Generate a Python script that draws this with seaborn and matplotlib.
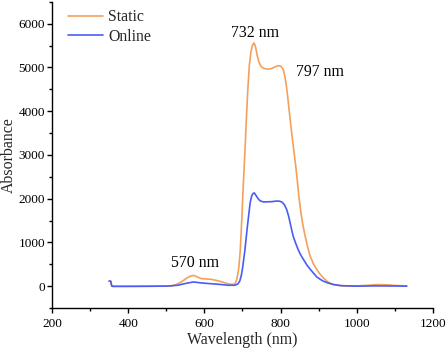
import numpy as np
import pandas as pd
import matplotlib
matplotlib.use("Agg")
import matplotlib.pyplot as plt
from matplotlib.ticker import MultipleLocator
import seaborn as sns

# ---- data ----
static_wl = [350, 354, 357, 360, 400, 450, 500, 514, 525, 540, 555, 565, 571, 578, 585, 593, 605,
             619, 632, 645, 660, 672, 680, 685, 690, 694, 698, 702, 706, 710, 714, 718, 722, 726,
             730, 734, 738, 742, 748, 755, 765, 775, 785, 793, 800, 806, 810, 814, 818, 822, 826,
             830, 835, 840, 844, 848, 853, 858, 864, 870, 877, 886, 895, 903, 912, 925, 938, 950,
             970, 1000, 1030, 1050, 1080, 1100, 1131]
static_abs = [114, 114, 0, -5, -5, -3, 0, 5, 30, 100, 190, 235, 244, 225, 195, 170, 165,
              153, 130, 100, 60, 40, 45, 150, 400, 800, 1500, 2300, 3000, 3800, 4500, 5050, 5350, 5500,
              5560, 5480, 5300, 5150, 5030, 4980, 4960, 4970, 5010, 5040, 5030, 4970, 4850, 4650, 4380, 4060, 3740,
              3440, 3080, 2720, 2400, 2050, 1700, 1420, 1160, 930, 700, 510, 380, 280, 190, 90, 38, 15,
              5, 5, 20, 35, 30, 15, 5]

online_wl = [350, 354, 357, 360, 400, 450, 500, 530, 550, 571, 590, 610, 640, 663, 680, 688, 693,
             697, 700, 703, 706, 709, 712, 716, 720, 724, 728, 731, 735, 740, 746, 755, 775, 790,
             798, 804, 810, 816, 821, 825, 829, 833, 840, 846, 853, 860, 870, 882, 895, 905, 912,
             925, 938, 960, 1000, 1050, 1100, 1131]
online_abs = [114, 114, 0, -5, -5, -3, 0, 20, 60, 95, 75, 60, 40, 20, 20, 50, 120,
              250, 400, 600, 800, 1050, 1300, 1600, 1900, 2060, 2120, 2130, 2080, 2010, 1950, 1925, 1930, 1945,
              1940, 1920, 1860, 1750, 1600, 1446, 1290, 1141, 970, 837, 710, 609, 470, 342, 210, 150, 114,
              70, 38, 10, 0, 5, 3, 0]

series_names = ["Static", "Online"]
series_colors = ["#F5A05A", "#4A5CF5"]

annot_labels = ["732 nm", "797 nm", "570 nm"]
annot_x = [732, 904, 575]
annot_y = [5686, 4807, 443]

x_label = "Wavelength (nm)"
y_label = "Absorbance"

df = pd.concat([
    pd.DataFrame({"Wavelength": static_wl, "Absorbance": static_abs, "Series": "Static"}),
    pd.DataFrame({"Wavelength": online_wl, "Absorbance": online_abs, "Series": "Online"}),
], ignore_index=True)

sns.set_style("ticks")
plt.rcParams["font.family"] = ["Liberation Serif", "DejaVu Serif"]

fig = plt.figure(figsize=(4.47, 3.55), dpi=100)
ax = fig.add_axes([0.1163, 0.1324, 0.8524, 0.8626])

sns.lineplot(data=df, x="Wavelength", y="Absorbance", hue="Series",
             hue_order=series_names, palette=series_colors, linewidth=1.2,
             ax=ax, legend=False, sort=False, estimator=None)

ax.set_xlim(200, 1200)
ax.set_ylim(-500, 6500)
ax.xaxis.set_major_locator(MultipleLocator(200))
ax.xaxis.set_minor_locator(MultipleLocator(100))
ax.yaxis.set_major_locator(MultipleLocator(1000))
ax.yaxis.set_minor_locator(MultipleLocator(500))
ax.tick_params(axis="both", which="major", direction="out", length=3.5, width=1.0,
               labelsize=9.5, colors="black")
ax.tick_params(axis="both", which="minor", direction="out", length=2, width=1.0, colors="black")
ax.tick_params(axis="x", which="major", pad=3.5)
ax.tick_params(axis="y", which="major", pad=1.5)
sns.despine(ax=ax)
for s in ["left", "bottom"]:
    ax.spines[s].set_linewidth(1.0)
    ax.spines[s].set_color("black")

ax.set_xlabel(x_label, fontsize=11.4, labelpad=2)
ax.set_ylabel(y_label, fontsize=11.4, labelpad=1)

for lab, x, y in zip(annot_labels, annot_x, annot_y):
    ax.text(x, y, lab, ha="center", va="baseline", fontsize=11.4, color="black")

handles = [plt.Line2D([], [], color=c, lw=1.2) for c in series_colors]
ax.legend(handles, series_names, loc="upper left", bbox_to_anchor=(0.041, 0.975),
          frameon=False, fontsize=11.4, handlelength=2.25, handletextpad=0.3,
          labelspacing=0.2, borderpad=0, borderaxespad=0)

fig.savefig("out.png", dpi=100)
